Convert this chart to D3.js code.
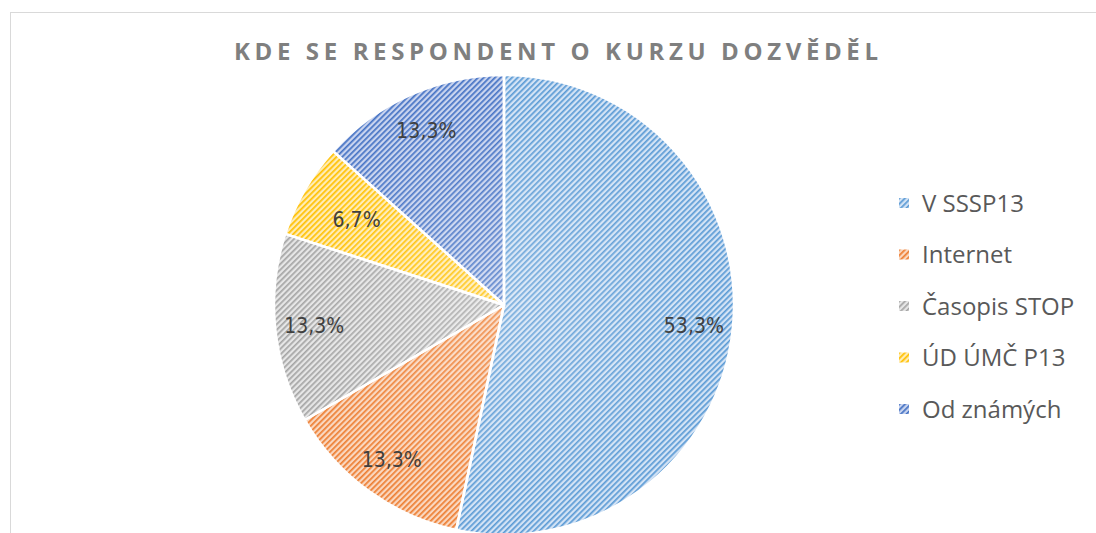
<!DOCTYPE html>
<html>
<head>
<meta charset="utf-8">
<script src="https://cdn.jsdelivr.net/npm/d3@7"></script>
<style>
  body { margin: 0; background: #fff; }
  svg { display: block; }
</style>
</head>
<body>
<svg id="chart" width="1096" height="533"></svg>
<script>
// data
var categories = ["V SSSP13", "Internet", "Časopis STOP", "ÚD ÚMČ P13", "Od známých"];
var counts = [8, 2, 2, 1, 2];
var stripeColors = ["#5b9bd5", "#ed7d31", "#a5a5a5", "#ffc000", "#4472c4"];
var backColors = ["#d3e3f5", "#fad7bf", "#e6e6e6", "#ffecb5", "#c9d4ef"];
var title = "KDE SE RESPONDENT O KURZU DOZVĚDĚL";

var svg = d3.select("#chart"),
    cx = 504, cy = 305,
    radius = 230;

var total = d3.sum(counts);
function pct(v) { return (v / total * 100).toFixed(1).replace(".", ",") + "%"; }

// chart area border (right/bottom run off the picture)
svg.append("rect")
    .attr("x", 10.5).attr("y", 12.5)
    .attr("width", 1200).attr("height", 700)
    .attr("fill", "none")
    .attr("stroke", "#d9d9d9");

var defs = svg.append("defs");
categories.forEach(function(c, i) {
    var p = defs.append("pattern")
        .attr("id", "pat" + i)
        .attr("patternUnits", "userSpaceOnUse")
        .attr("width", 4).attr("height", 4)
        .attr("patternTransform", "rotate(45)");
    p.append("rect").attr("width", 4).attr("height", 4).attr("fill", backColors[i]);
    p.append("rect").attr("width", 1.7).attr("height", 4).attr("fill", stripeColors[i]);
});

var shade = defs.append("radialGradient")
    .attr("id", "shade")
    .attr("gradientUnits", "userSpaceOnUse")
    .attr("cx", 0).attr("cy", 0).attr("r", radius);
shade.append("stop").attr("offset", "0%").attr("stop-color", "#fff").attr("stop-opacity", 0.2);
shade.append("stop").attr("offset", "85%").attr("stop-color", "#fff").attr("stop-opacity", 0.02);
shade.append("stop").attr("offset", "100%").attr("stop-color", "#fff").attr("stop-opacity", 0);

svg.append("text")
    .attr("x", 556).attr("y", 60)
    .attr("text-anchor", "middle")
    .attr("textLength", 644)
    .attr("lengthAdjust", "spacing")
    .style("font-family", "'Open Sans', sans-serif")
    .style("font-weight", "bold")
    .style("font-size", "24px")
    .style("fill", "#7f7f7f")
    .text(title);

var pie = d3.pie().sort(null).value(function(d) { return d; });
var arcs = pie(counts);
var arc = d3.arc().innerRadius(0).outerRadius(radius);

// labels at 0.83 r; the narrow slice's label is pulled in a little
function labelPos(d) {
    var r = radius * (d.value / total < 0.1 ? 0.74 : 0.83),
        a = (d.startAngle + d.endAngle) / 2;
    return [Math.sin(a) * r, -Math.cos(a) * r];
}

var g = svg.append("g").attr("transform", "translate(" + cx + "," + cy + ")");

g.selectAll("path.slice")
    .data(arcs)
    .enter().append("path")
    .attr("class", "slice")
    .attr("d", arc)
    .attr("fill", function(d, i) { return "url(#pat" + i + ")"; });

g.selectAll("path.shade")
    .data(arcs)
    .enter().append("path")
    .attr("class", "shade")
    .attr("d", arc)
    .attr("fill", "url(#shade)")
    .attr("stroke", "#fff")
    .attr("stroke-width", 2.5)
    .attr("stroke-linejoin", "round");

g.selectAll("text.lbl")
    .data(arcs)
    .enter().append("text")
    .attr("class", "lbl")
    .attr("transform", function(d) { return "translate(" + labelPos(d) + ")"; })
    .attr("text-anchor", "middle")
    .attr("dy", "0.36em")
    .style("font-family", "'Liberation Sans Narrow', 'DejaVu Sans Condensed', sans-serif")
    .style("font-size", "21px")
    .style("fill", "#404040")
    .text(function(d) { return pct(d.value); });

// legend
var ly = d3.scalePoint().domain(categories).range([203, 409]);
var legend = svg.append("g").selectAll("g")
    .data(categories)
    .enter().append("g")
    .attr("transform", function(d) { return "translate(899," + ly(d) + ")"; });

legend.append("rect")
    .attr("x", 0).attr("y", -5)
    .attr("width", 10).attr("height", 10)
    .attr("fill", function(d, i) { return "url(#pat" + i + ")"; });

legend.append("text")
    .attr("x", 23)
    .attr("dy", "0.36em")
    .style("font-family", "'Open Sans', sans-serif")
    .style("font-size", "24px")
    .style("fill", "#595959")
    .text(function(d) { return d; });
</script>
</body>
</html>
